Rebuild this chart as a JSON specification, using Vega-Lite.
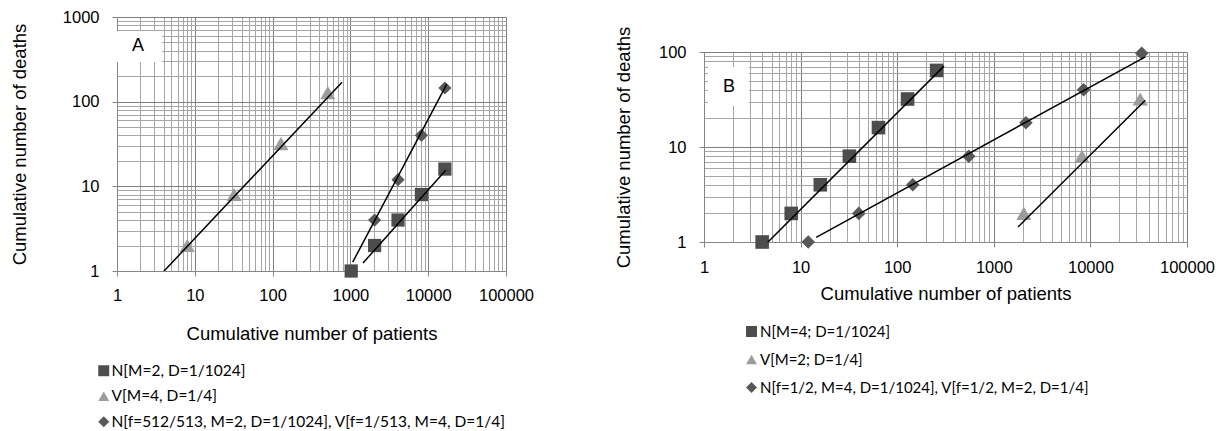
{
  "$schema": "https://vega.github.io/schema/vega-lite/v6.json",
  "padding": {"left": 10, "top": 9, "right": 0, "bottom": 0},
  "background": "white",
  "spacing": 80,
  "config": {
    "view": {"stroke": null},
    "font": "Liberation Sans",
    "axis": {
      "labelFont": "Liberation Sans", "labelFontSize": 16.5, "labelColor": "black",
      "titleFont": "Liberation Sans", "titleFontSize": 18.5, "titleFontWeight": "normal", "titleColor": "black",
      "domainColor": "#868686", "tickColor": "#868686", "tickSize": 5,
      "labelOverlap": false, "labelFlush": false, "labelBound": false
    },
    "legend": {
      "labelFont": "Lato", "labelColor": "black", "labelLimit": 700, "symbolSize": 120, "symbolStrokeWidth": 0
    }
  },
  "resolve": {
    "scale": {"color": "independent", "shape": "independent"},
    "legend": {"color": "independent", "shape": "independent"}
  },
  "hconcat": [
    {
      "width": 389, "height": 254,
      "encoding": {
        "x": {"field": "x", "type": "quantitative",
          "scale": {"type": "log", "domain": [1, 100000], "nice": false},
          "axis": {
            "title": "Cumulative number of patients",
            "values": [1,2,3,4,5,6,7,8,9,10,20,30,40,50,60,70,80,90,100,200,300,400,500,600,700,800,900,1000,2000,3000,4000,5000,6000,7000,8000,9000,10000,20000,30000,40000,50000,60000,70000,80000,90000,100000],
            "labelExpr": "indexof([1,10,100,1000,10000,100000], datum.value) >= 0 ? datum.value + '' : ''",
            "gridColor": {"condition": {"test": "indexof([1,10,100,1000,10000,100000], datum.value) >= 0", "value": "#7f7f7f"}, "value": "#a6a6a6"},
            "tickOpacity": {"condition": {"test": "indexof([1,10,100,1000,10000,100000], datum.value) >= 0", "value": 1}, "value": 0},
            "labelPadding": 11, "titlePadding": 21
          }},
        "y": {"field": "y", "type": "quantitative",
          "scale": {"type": "log", "domain": [1, 1000], "nice": false},
          "axis": {
            "title": "Cumulative number of deaths",
            "values": [1,2,3,4,5,6,7,8,9,10,20,30,40,50,60,70,80,90,100,200,300,400,500,600,700,800,900,1000],
            "labelExpr": "indexof([1,10,100,1000], datum.value) >= 0 ? datum.value + '' : ''",
            "gridColor": {"condition": {"test": "indexof([1,10,100,1000], datum.value) >= 0", "value": "#7f7f7f"}, "value": "#a6a6a6"},
            "tickOpacity": {"condition": {"test": "indexof([1,10,100,1000], datum.value) >= 0", "value": 1}, "value": 0},
            "labelPadding": 13, "titlePadding": 33
          }}
      },
      "layer": [
        {
          "data": {"values": [{"x": 1, "x2": 3.79, "y": 294, "y2": 681}]},
          "mark": {"type": "rect", "fill": "white", "stroke": null},
          "encoding": {"x2": {"field": "x2"}, "y2": {"field": "y2"}}
        },
        {
          "data": {"values": [{"x": 1.86, "y": 453, "label": "A"}]},
          "mark": {"type": "text", "font": "Liberation Sans", "fontSize": 18, "color": "black", "align": "center", "baseline": "middle"},
          "encoding": {"text": {"field": "label"}}
        },
        {
          "data": {"values": [
            {"series": "N[f=512/513, M=2, D=1/1024], V[f=1/513, M=4, D=1/4]", "x": 1024, "y": 1},
            {"series": "N[f=512/513, M=2, D=1/1024], V[f=1/513, M=4, D=1/4]", "x": 2048, "y": 4},
            {"series": "N[f=512/513, M=2, D=1/1024], V[f=1/513, M=4, D=1/4]", "x": 4096, "y": 12},
            {"series": "N[f=512/513, M=2, D=1/1024], V[f=1/513, M=4, D=1/4]", "x": 8192, "y": 40},
            {"series": "N[f=512/513, M=2, D=1/1024], V[f=1/513, M=4, D=1/4]", "x": 16384, "y": 145},
            {"series": "V[M=4, D=1/4]", "x": 8, "y": 2},
            {"series": "V[M=4, D=1/4]", "x": 32, "y": 8},
            {"series": "V[M=4, D=1/4]", "x": 128, "y": 32},
            {"series": "V[M=4, D=1/4]", "x": 512, "y": 128},
            {"series": "N[M=2, D=1/1024]", "x": 1024, "y": 1},
            {"series": "N[M=2, D=1/1024]", "x": 2048, "y": 2},
            {"series": "N[M=2, D=1/1024]", "x": 4096, "y": 4},
            {"series": "N[M=2, D=1/1024]", "x": 8192, "y": 8},
            {"series": "N[M=2, D=1/1024]", "x": 16384, "y": 16}
          ]},
          "mark": {"type": "point", "filled": true, "opacity": 1},
          "encoding": {
            "size": {"condition": {"test": "substring(datum.series, 0, 1) === 'V'", "value": 230}, "value": 175},
            "shape": {"field": "series", "type": "nominal",
              "scale": {"domain": ["N[M=2, D=1/1024]", "V[M=4, D=1/4]", "N[f=512/513, M=2, D=1/1024], V[f=1/513, M=4, D=1/4]"], "range": ["square", "triangle-up", "diamond"]},
              "legend": {"title": null, "orient": "none", "legendX": -21, "legendY": 346, "direction": "vertical", "labelFontSize": 15.5, "rowPadding": 8.5, "labelOffset": 0}},
            "color": {"field": "series", "type": "nominal",
              "scale": {"domain": ["N[M=2, D=1/1024]", "V[M=4, D=1/4]", "N[f=512/513, M=2, D=1/1024], V[f=1/513, M=4, D=1/4]"], "range": ["#4d4d4d", "#9c9c9c", "#585858"]},
              "legend": {"title": null, "orient": "none", "legendX": -21, "legendY": 346, "direction": "vertical", "labelFontSize": 15.5, "rowPadding": 8.5, "labelOffset": 0}}
          }
        },
        {
          "data": {"values": [
            {"line": "sq", "x": 1450, "y": 1.24}, {"line": "sq", "x": 16900, "y": 15.6},
            {"line": "di", "x": 1070, "y": 1.27}, {"line": "di", "x": 17300, "y": 161},
            {"line": "tr", "x": 3.7, "y": 0.92}, {"line": "tr", "x": 780, "y": 170}
          ]},
          "mark": {"type": "line", "color": "black", "strokeWidth": 1.5, "clip": true},
          "encoding": {"detail": {"field": "line"}}
        }
      ]
    },
    {
      "spacing": 0,
      "vconcat": [
        {
          "width": 483, "height": 6,
          "data": {"values": []},
          "mark": {"type": "point", "opacity": 0},
          "encoding": {}
        },
        {
          "width": 483, "height": 190,
          "encoding": {
            "x": {"field": "x", "type": "quantitative",
              "scale": {"type": "log", "domain": [1, 100000], "nice": false},
              "axis": {
                "title": "Cumulative number of patients",
                "values": [1,2,3,4,5,6,7,8,9,10,20,30,40,50,60,70,80,90,100,200,300,400,500,600,700,800,900,1000,2000,3000,4000,5000,6000,7000,8000,9000,10000,20000,30000,40000,50000,60000,70000,80000,90000,100000],
                "labelExpr": "indexof([1,10,100,1000,10000,100000], datum.value) >= 0 ? datum.value + '' : ''",
                "gridColor": {"condition": {"test": "indexof([1,10,100,1000,10000,100000], datum.value) >= 0", "value": "#7f7f7f"}, "value": "#a6a6a6"},
                "tickOpacity": {"condition": {"test": "indexof([1,10,100,1000,10000,100000], datum.value) >= 0", "value": 1}, "value": 0},
                "labelPadding": 12, "titlePadding": 9
              }},
            "y": {"field": "y", "type": "quantitative",
              "scale": {"type": "log", "domain": [1, 100], "nice": false},
              "axis": {
                "title": "Cumulative number of  deaths",
                "values": [1,2,3,4,5,6,7,8,9,10,20,30,40,50,60,70,80,90,100],
                "labelExpr": "indexof([1,10,100], datum.value) >= 0 ? datum.value + '' : ''",
                "gridColor": {"condition": {"test": "indexof([1,10,100], datum.value) >= 0", "value": "#7f7f7f"}, "value": "#a6a6a6"},
                "tickOpacity": {"condition": {"test": "indexof([1,10,100], datum.value) >= 0", "value": 1}, "value": 0},
                "labelPadding": 13, "titlePadding": 25
              }}
          },
          "layer": [
            {
              "data": {"values": [{"x": 1.1, "x2": 2.92, "y": 27, "y2": 69.5}]},
              "mark": {"type": "rect", "fill": "white", "stroke": null},
              "encoding": {"x2": {"field": "x2"}, "y2": {"field": "y2"}}
            },
            {
              "data": {"values": [{"x": 1.81, "y": 43, "label": "B"}]},
              "mark": {"type": "text", "font": "Liberation Sans", "fontSize": 18, "color": "black", "align": "center", "baseline": "middle"},
              "encoding": {"text": {"field": "label"}}
            },
            {
              "data": {"values": [
                {"series": "N[f=1/2, M=4, D=1/1024], V[f=1/2, M=2, D=1/4]", "x": 12, "y": 1},
                {"series": "N[f=1/2, M=4, D=1/1024], V[f=1/2, M=2, D=1/4]", "x": 40, "y": 2},
                {"series": "N[f=1/2, M=4, D=1/1024], V[f=1/2, M=2, D=1/4]", "x": 145, "y": 4},
                {"series": "N[f=1/2, M=4, D=1/1024], V[f=1/2, M=2, D=1/4]", "x": 550, "y": 8},
                {"series": "N[f=1/2, M=4, D=1/1024], V[f=1/2, M=2, D=1/4]", "x": 2150, "y": 18},
                {"series": "N[f=1/2, M=4, D=1/1024], V[f=1/2, M=2, D=1/4]", "x": 8500, "y": 40},
                {"series": "N[f=1/2, M=4, D=1/1024], V[f=1/2, M=2, D=1/4]", "x": 34000, "y": 97},
                {"series": "V[M=2; D=1/4]", "x": 2048, "y": 2},
                {"series": "V[M=2; D=1/4]", "x": 8192, "y": 8},
                {"series": "V[M=2; D=1/4]", "x": 32768, "y": 32},
                {"series": "N[M=4; D=1/1024]", "x": 4, "y": 1},
                {"series": "N[M=4; D=1/1024]", "x": 8, "y": 2},
                {"series": "N[M=4; D=1/1024]", "x": 16, "y": 4},
                {"series": "N[M=4; D=1/1024]", "x": 32, "y": 8},
                {"series": "N[M=4; D=1/1024]", "x": 64, "y": 16},
                {"series": "N[M=4; D=1/1024]", "x": 128, "y": 32},
                {"series": "N[M=4; D=1/1024]", "x": 256, "y": 64}
              ]},
              "mark": {"type": "point", "filled": true, "opacity": 1},
              "encoding": {
                "size": {"condition": {"test": "substring(datum.series, 0, 1) === 'V'", "value": 230}, "value": 185},
                "shape": {"field": "series", "type": "nominal",
                  "scale": {"domain": ["N[M=4; D=1/1024]", "V[M=2; D=1/4]", "N[f=1/2, M=4, D=1/1024], V[f=1/2, M=2, D=1/4]"], "range": ["square", "triangle-up", "diamond"]},
                  "legend": {"title": null, "orient": "none", "legendX": 40, "legendY": 307, "direction": "vertical", "labelFontSize": 15, "rowPadding": 12, "labelOffset": 1}},
                "color": {"field": "series", "type": "nominal",
                  "scale": {"domain": ["N[M=4; D=1/1024]", "V[M=2; D=1/4]", "N[f=1/2, M=4, D=1/1024], V[f=1/2, M=2, D=1/4]"], "range": ["#4d4d4d", "#9c9c9c", "#585858"]},
                  "legend": {"title": null, "orient": "none", "legendX": 40, "legendY": 307, "direction": "vertical", "labelFontSize": 15, "rowPadding": 12, "labelOffset": 1}}
              }
            },
            {
              "data": {"values": [
                {"line": "sq", "x": 4.1, "y": 0.89}, {"line": "sq", "x": 305, "y": 71},
                {"line": "di", "x": 14.5, "y": 1.12}, {"line": "di", "x": 37000, "y": 89},
                {"line": "tr", "x": 1780, "y": 1.44}, {"line": "tr", "x": 37000, "y": 31}
              ]},
              "mark": {"type": "line", "color": "black", "strokeWidth": 1.5, "clip": true},
              "encoding": {"detail": {"field": "line"}}
            }
          ]
        }
      ]
    }
  ]
}
